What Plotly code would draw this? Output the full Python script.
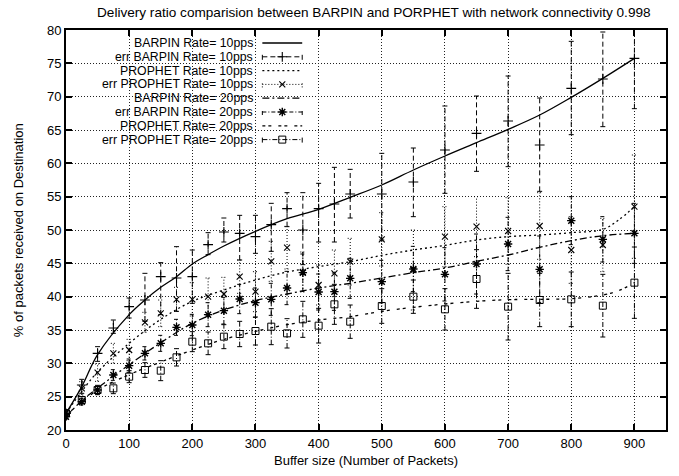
import plotly.graph_objects as go

# ---------------- data ----------------
x_pts = [0, 25, 50, 75, 100, 125, 150, 175, 200, 225, 250, 275, 300, 325, 350,
         375, 400, 425, 450, 500, 550, 600, 650, 700, 750, 800, 850, 900]

barpin10 = [22.5, 26.75, 31.5, 35.3, 38.5, 39.5, 43.0, 42.8, 43.0, 47.8, 49.7, 49.5, 49.0, 50.8, 53.2,
            50.0, 53.2, 53.9, 55.4, 55.4, 57.2, 62.0, 64.5, 66.35, 62.75, 71.25, 72.65, 75.75]
barpin10_lo = [22.0, 25.5, 30.3, 34.5, 36.8, 36.3, 37.3, 37.8, 39.0, 46.3, 48.2, 45.5, 46.5, 46.8, 50.5,
               44.8, 48.2, 48.2, 51.8, 48.5, 52.0, 55.5, 58.8, 59.5, 55.8, 64.3, 65.5, 68.2]
barpin10_hi = [23.0, 27.6, 32.5, 36.5, 39.8, 43.5, 45.1, 47.5, 47.0, 49.6, 51.8, 52.2, 52.2, 54.0, 55.6,
               55.6, 57.0, 59.4, 59.1, 61.5, 62.3, 68.6, 70.1, 73.1, 69.8, 78.3, 79.7, 84.0]

prophet10 = [22.5, 26.25, 28.6, 31.5, 32.0, 36.15, 37.5, 39.6, 39.6, 40.0, 40.4, 43.0, 40.75, 45.3, 47.35,
             43.7, 41.75, 43.5, 45.25, 48.6, 44.0, 49.0, 50.5, 49.85, 50.6, 47.0, 47.75, 53.5]
prophet10_lo = [22.0, 25.25, 27.3, 30.0, 30.4, 34.65, 35.5, 37.8, 37.1, 37.2, 37.9, 40.5, 37.75, 42.3, 44.15,
                40.7, 38.75, 40.0, 41.75, 44.6, 38.0, 44.5, 46.0, 44.85, 45.6, 42.0, 43.75, 45.75]
prophet10_hi = [23.0, 27.25, 29.9, 33.0, 33.6, 37.65, 39.5, 41.4, 42.1, 42.8, 42.9, 45.5, 43.75, 48.3, 50.55,
                46.7, 44.75, 47.0, 48.75, 52.6, 50.0, 53.5, 55.0, 54.85, 55.6, 52.0, 51.75, 61.25]

barpin20 = [22.0, 24.25, 26.0, 28.25, 29.65, 31.5, 33.0, 35.4, 35.75, 37.3, 37.9, 39.65, 39.1, 39.6, 41.3,
            43.6, 40.7, 40.75, 42.75, 42.25, 44.15, 43.35, 44.9, 47.9, 44.1, 51.4, 48.6, 49.5]
barpin20_lo = [21.6, 23.75, 25.4, 27.45, 28.65, 30.5, 31.8, 34.2, 34.15, 35.5, 35.9, 37.45, 36.9, 37.2, 38.8,
               40.8, 38.0, 37.95, 39.75, 39.05, 40.75, 39.35, 40.4, 43.9, 39.1, 47.8, 45.2, 45.0]
barpin20_hi = [22.4, 24.75, 26.6, 29.05, 30.65, 32.5, 34.2, 36.6, 37.35, 39.1, 39.9, 41.85, 41.3, 42.0, 43.8,
               46.4, 43.4, 43.55, 45.75, 45.45, 47.55, 47.35, 49.4, 51.9, 49.1, 55.0, 52.0, 54.0]

prophet20 = [22.5, 24.5, 26.0, 26.25, 28.0, 29.0, 28.9, 30.9, 33.25, 33.0, 34.0, 34.4, 34.85, 35.5, 34.5,
             36.6, 35.65, 38.85, 36.25, 38.6, 40.0, 38.1, 42.65, 38.5, 39.5, 39.6, 38.65, 42.1]
prophet20_lo = [22.0, 24.0, 25.3, 25.45, 27.1, 27.9, 27.4, 29.6, 31.75, 31.3, 32.2, 32.5, 32.75, 32.8, 32.3,
                33.9, 33.05, 35.85, 33.75, 36.0, 37.5, 35.0, 38.25, 33.5, 35.5, 35.5, 33.95, 36.75]
prophet20_hi = [23.0, 25.0, 26.7, 27.05, 28.9, 30.1, 30.4, 32.2, 34.75, 34.7, 35.8, 36.3, 36.95, 38.2, 36.7,
                39.3, 38.25, 41.85, 38.75, 41.2, 42.5, 41.2, 47.05, 43.5, 43.5, 43.7, 43.35, 47.45]

# smoothed curves
barpin10_curve_x = [0, 25, 50, 100, 125, 150, 175, 200, 225, 250, 300, 350, 400, 450, 500, 550,
                    600, 650, 700, 750, 800, 850, 900]
barpin10_curve_y = [22.5, 26.5, 31.3, 37.3, 39.5, 41.4, 43.0, 44.9, 46.3, 47.6, 49.8, 51.7, 53.1, 54.9,
                    56.75, 59.0, 61.1, 63.1, 65.1, 67.25, 69.9, 72.75, 75.75]

prophet10_curve_x = [0, 25, 50, 100, 150, 200, 250, 300, 350, 400, 450, 500, 550, 600, 650, 700,
                     750, 800, 850, 875, 900]
prophet10_curve_y = [22.5, 25.8, 28.7, 33.0, 36.6, 39.3, 41.0, 42.5, 43.7, 44.5, 45.25, 46.2, 47.0,
                     47.7, 48.5, 49.0, 49.25, 49.6, 50.1, 51.5, 53.5]

barpin20_curve_x = [0, 25, 50, 100, 150, 200, 250, 300, 350, 400, 450, 500, 550, 600, 650, 700,
                    750, 800, 850, 900]
barpin20_curve_y = [22.0, 24.4, 26.3, 29.8, 33.1, 36.0, 38.0, 39.4, 40.4, 41.3, 42.0, 42.8, 43.6,
                    44.3, 45.3, 46.25, 47.4, 48.4, 49.15, 49.5]

prophet20_curve_x = [0, 25, 50, 100, 150, 200, 250, 300, 350, 400, 450, 500, 550, 600, 650, 700,
                     750, 800, 850, 875, 900]
prophet20_curve_y = [22.3, 24.1, 26.0, 28.3, 30.2, 32.0, 33.6, 34.8, 35.8, 36.5, 37.0, 37.8, 38.4,
                     38.9, 39.3, 39.55, 39.6, 39.7, 40.25, 40.9, 42.1]

x_ticks = [0, 100, 200, 300, 400, 500, 600, 700, 800, 900]
y_ticks = [20, 25, 30, 35, 40, 45, 50, 55, 60, 65, 70, 75, 80]

legend_labels = ["BARPIN Rate= 10pps", "err BARPIN Rate= 10pps",
                 "PROPHET Rate= 10pps", "err PROPHET Rate= 10pps",
                 "BARPIN Rate= 20pps", "err BARPIN Rate= 20pps",
                 "PROPHET Rate= 20pps", "err PROPHET Rate= 20pps"]

title_text = "Delivery ratio comparision between BARPIN and PORPHET with network connectivity 0.998"
x_title = "Buffer size (Number of Packets)"
y_title = "% of packets received on Destination"

# ---------------- styles ----------------
FONT = "Liberation Sans, Arial, Helvetica, sans-serif"
BLACK = "black"
CAP = 4.0  # half width of error-bar caps in x units

styles = {
    "c_b10": dict(color=BLACK, width=1.3, dash="solid"),
    "e_b10": dict(color=BLACK, width=1, dash="5px,3px"),
    "c_p10": dict(color=BLACK, width=1.3, dash="2px,3px"),
    "e_p10": dict(color=BLACK, width=1, dash="1px,2px"),
    "c_b20": dict(color=BLACK, width=1.3, dash="7px,3px,2px,3px"),
    "e_b20": dict(color=BLACK, width=1, dash="4px,2px,1px,2px"),
    "c_p20": dict(color=BLACK, width=1.3, dash="3px,3px,3px,7px"),
    "e_p20": dict(color=BLACK, width=1, dash="5px,2px,1px,2px"),
}
markers = {
    "b10": dict(symbol="cross-thin-open", size=7, color=BLACK, line=dict(color=BLACK, width=1.1)),
    "p10": dict(symbol="x-thin-open", size=6, color=BLACK, line=dict(color=BLACK, width=1.1)),
    "b20": dict(symbol="asterisk-open", size=7, color=BLACK, line=dict(color=BLACK, width=1.4)),
    "p20": dict(symbol="square-open", size=7, color=BLACK, line=dict(color=BLACK, width=1.0)),
}


def errbar_path(xs, lo, hi, cap):
    X, Y = [], []
    for x, l, h in zip(xs, lo, hi):
        X += [x, x, None, x - cap, x + cap, None, x - cap, x + cap, None]
        Y += [l, h, None, l, l, None, h, h, None]
    return X, Y


fig = go.Figure()

series = [
    ("b10", barpin10_curve_x, barpin10_curve_y, barpin10, barpin10_lo, barpin10_hi),
    ("p10", prophet10_curve_x, prophet10_curve_y, prophet10, prophet10_lo, prophet10_hi),
    ("b20", barpin20_curve_x, barpin20_curve_y, barpin20, barpin20_lo, barpin20_hi),
    ("p20", prophet20_curve_x, prophet20_curve_y, prophet20, prophet20_lo, prophet20_hi),
]

for key, cx, cy, yv, lo, hi in series:
    fig.add_trace(go.Scatter(x=cx, y=cy, mode="lines",
                             line=dict(shape="spline", smoothing=1.0, **styles["c_" + key]),
                             hoverinfo="skip"))
    ex, ey = errbar_path(x_pts, lo, hi, CAP)
    fig.add_trace(go.Scatter(x=ex, y=ey, mode="lines", line=styles["e_" + key],
                             connectgaps=False, hoverinfo="skip"))
    fig.add_trace(go.Scatter(x=x_pts, y=yv, mode="markers", marker=markers[key]))

# ---------------- custom gnuplot-style legend (text right aligned, sample on the right) ----------------
leg_keys = ["c_b10", "e_b10", "c_p10", "e_p10", "c_b20", "e_b20", "c_p20", "e_p20"]
leg_mk = [None, "b10", None, "p10", None, "b20", None, "p20"]
row0, row_step = 43.0, 13.8        # pixel rows
text_right, s0, s1 = 256, 263, 303  # pixel columns
W, H, L, T = 602, 400, 66, 30


def px(xp):
    return (xp - L) / W


def py(yp):
    return (T + H - yp) / H


for i, lab in enumerate(legend_labels):
    yr = py(row0 + i * row_step)
    fig.add_annotation(text=lab, xref="paper", yref="paper", x=px(text_right), y=yr,
                       xanchor="right", yanchor="middle", showarrow=False,
                       font=dict(family=FONT, size=12.3, color=BLACK))
    k = leg_keys[i]
    if leg_mk[i] is None:
        fig.add_trace(go.Scatter(x=[px(s0), px(s1)], y=[yr, yr], mode="lines", line=styles[k],
                                 xaxis="x2", yaxis="y2", hoverinfo="skip"))
    else:
        d = 3 / H
        fig.add_trace(go.Scatter(x=[px(s0), px(s1), None, px(s0), px(s0), None, px(s1), px(s1)],
                                 y=[yr, yr, None, yr - d, yr + d, None, yr - d, yr + d],
                                 mode="lines", line=styles[k], connectgaps=False,
                                 xaxis="x2", yaxis="y2", hoverinfo="skip"))
        fig.add_trace(go.Scatter(x=[px((s0 + s1) / 2)], y=[yr], mode="markers", marker=markers[leg_mk[i]],
                                 xaxis="x2", yaxis="y2", hoverinfo="skip"))

# titles
fig.add_annotation(text=title_text, xref="paper", yref="paper", x=px(375), y=py(12),
                   xanchor="center", yanchor="middle", showarrow=False,
                   font=dict(family=FONT, size=13.6, color=BLACK))
fig.add_annotation(text=x_title, xref="paper", yref="paper", x=0.5, y=py(460),
                   xanchor="center", yanchor="middle", showarrow=False,
                   font=dict(family=FONT, size=13, color=BLACK))
fig.add_annotation(text=y_title, xref="paper", yref="paper", x=px(18), y=0.5, textangle=-90,
                   xanchor="center", yanchor="middle", showarrow=False,
                   font=dict(family=FONT, size=13, color=BLACK))

axis_common = dict(showline=True, linecolor=BLACK, linewidth=2, mirror="allticks",
                   ticks="inside", ticklen=6, tickwidth=1.5, tickcolor=BLACK,
                   showgrid=True, gridcolor="#222", gridwidth=1, griddash="1px,2px",
                   zeroline=False, tickfont=dict(family=FONT, size=13, color=BLACK))

fig.update_layout(
    width=679, height=476,
    margin=dict(l=L, r=679 - L - W, t=T, b=476 - T - H, pad=0),
    paper_bgcolor="white", plot_bgcolor="white",
    showlegend=False,
    xaxis=dict(range=[0, 950], tickmode="array", tickvals=x_ticks, **axis_common),
    yaxis=dict(range=[20, 80], tickmode="array", tickvals=y_ticks, **axis_common),
    xaxis2=dict(range=[0, 1], overlaying="x", visible=False, fixedrange=True),
    yaxis2=dict(range=[0, 1], overlaying="y", visible=False, fixedrange=True),
    font=dict(family=FONT, size=13, color=BLACK),
)

fig.write_html("out.html")
